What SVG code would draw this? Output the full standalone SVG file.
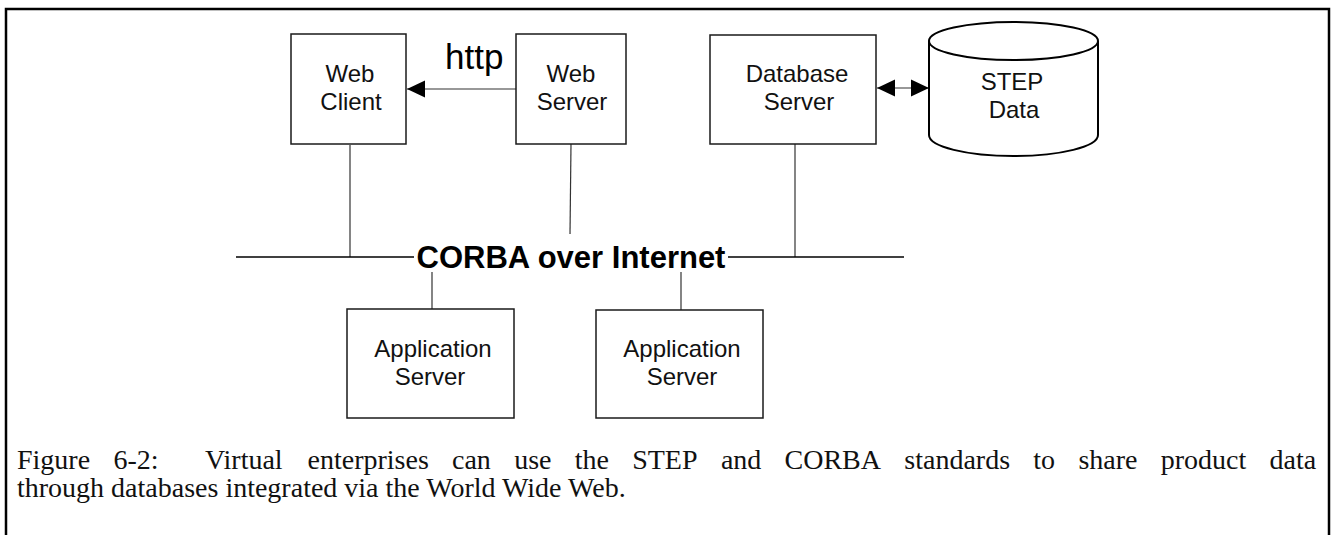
<svg xmlns="http://www.w3.org/2000/svg" width="1333" height="535" viewBox="0 0 1333 535">
<style>
.box{fill:#fff;stroke:#1a1a1a;stroke-width:1.5}
.lbl{font-family:"Liberation Sans",Arial,sans-serif;font-size:24px;fill:#111;text-anchor:middle}
.conn{stroke:#333;stroke-width:1.2;fill:none}
.cap{font-family:"Liberation Serif","Times New Roman",serif;font-size:28px;fill:#111}
</style>
<defs>
<marker id="ah" markerUnits="userSpaceOnUse" markerWidth="18" markerHeight="18" viewBox="0 0 17 16" refX="17" refY="8" orient="auto-start-reverse">
<path d="M0,0 L17,8 L0,16 Z" fill="#000"/>
</marker>
</defs>
<rect x="6" y="9" width="1323" height="545" fill="none" stroke="#000" stroke-width="2.5"/>
<g id="connectors">
<line class="conn" x1="516" y1="89" x2="407" y2="89" marker-end="url(#ah)"/>
<line class="conn" x1="877" y1="88" x2="929" y2="88" marker-start="url(#ah)" marker-end="url(#ah)"/>
<line class="conn" x1="350" y1="145" x2="350" y2="257"/>
<line class="conn" x1="571" y1="144" x2="570" y2="234"/>
<line class="conn" x1="795" y1="144" x2="795" y2="257"/>
<line x1="236" y1="257" x2="414" y2="257" stroke="#000" stroke-width="1.5"/>
<line x1="728" y1="257" x2="904" y2="257" stroke="#000" stroke-width="1.5"/>
<line class="conn" x1="432" y1="272" x2="432" y2="309"/>
<line class="conn" x1="681" y1="272" x2="681" y2="310"/>
<text x="571" y="268" font-family="'Liberation Sans',Arial,sans-serif" font-size="31" font-weight="bold" fill="#000" text-anchor="middle">CORBA over Internet</text>
<text x="445" y="69" font-family="'Liberation Sans',Arial,sans-serif" font-size="35" fill="#000">http</text>
</g>
<g id="web-client">
<rect class="box" x="291" y="34" width="115" height="110"/>
<text class="lbl" x="350" y="82">Web</text>
<text class="lbl" x="351" y="110">Client</text>
</g>
<g id="web-server">
<rect class="box" x="516" y="34" width="110" height="110"/>
<text class="lbl" x="571" y="82">Web</text>
<text class="lbl" x="572" y="110">Server</text>
</g>
<g id="database-server">
<rect class="box" x="710" y="35" width="166" height="109"/>
<text class="lbl" x="797" y="82">Database</text>
<text class="lbl" x="799" y="110">Server</text>
</g>
<g id="step-data">
<path d="M929,41 L929,135 A84.5,21 0 0 0 1098,135 L1098,41 A84.5,19 0 0 0 929,41 Z" fill="#fff" stroke="#000" stroke-width="2"/>
<path d="M929,41 A84.5,19 0 0 0 1098,41" fill="none" stroke="#000" stroke-width="2"/>
<text class="lbl" x="1012" y="90">STEP</text>
<text class="lbl" x="1014" y="118">Data</text>
</g>
<g id="app-server-1">
<rect class="box" x="347" y="309" width="167" height="109"/>
<text class="lbl" x="433" y="357">Application</text>
<text class="lbl" x="430" y="385">Server</text>
</g>
<g id="app-server-2">
<rect class="box" x="596" y="310" width="167" height="108"/>
<text class="lbl" x="682" y="357">Application</text>
<text class="lbl" x="682" y="385">Server</text>
</g>
<g id="caption">
<text class="cap" y="469"><tspan x="17">Figure</tspan><tspan x="113.4">6-2:</tspan><tspan x="205">Virtual</tspan><tspan x="307.5">enterprises</tspan><tspan x="452">can</tspan><tspan x="514.2">use</tspan><tspan x="574.8">the</tspan><tspan x="632.2">STEP</tspan><tspan x="720.9">and</tspan><tspan x="784.5">CORBA</tspan><tspan x="904.3">standards</tspan><tspan x="1033.3">to</tspan><tspan x="1078.4">share</tspan><tspan x="1160.7">product</tspan><tspan x="1269.5">data</tspan></text>
<text class="cap" x="17" y="497">through databases integrated via the World Wide Web.</text>
</g>
</svg>
